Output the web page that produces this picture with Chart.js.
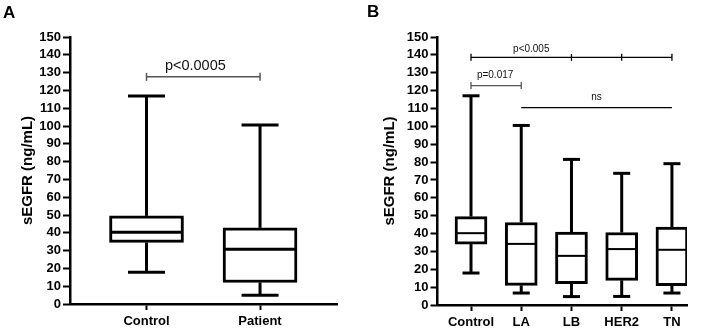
<!DOCTYPE html>
<html><head><meta charset="utf-8">
<script src="https://cdn.jsdelivr.net/npm/chart.js@4"></script>
<style>
html,body{margin:0;padding:0;background:#fff;width:707px;height:328px;overflow:hidden;font-family:"Liberation Sans",Arial,sans-serif;}
#wa{position:absolute;left:0;top:0;width:350px;height:328px;}
#wb{position:absolute;left:350px;top:0;width:357px;height:328px;}
.pl{position:absolute;font-weight:bold;font-size:17px;line-height:17px;color:#000;}
</style></head><body>
<div id="wa"><canvas id="ca" width="350" height="328"></canvas></div>
<div id="wb"><canvas id="cb" width="357" height="328"></canvas></div>
<div class="pl" style="left:3px;top:4px">A</div>
<div class="pl" style="left:367px;top:3px">B</div>
<script>
// ---- Data ----
const yTicks = [0,10,20,30,40,50,60,70,80,90,100,110,120,130,140,150];

const categoriesA = ['Control', 'Patient'];
const minA    = [17.9, 4.9];
const q1A     = [34.6, 12.1];
const medianA = [40.3, 30.8];
const q3A     = [49.5, 42.8];
const maxA    = [116.9, 100.5];

const categoriesB = ['Control', 'LA', 'LB', 'HER2', 'TN'];
const minB    = [17.9, 6.7, 4.7, 4.8, 6.7];
const q1B     = [34.1, 11.0, 11.9, 13.8, 10.8];
const medianB = [40.2, 34.2, 27.5, 31.3, 30.9];
const q3B     = [49.5, 46.2, 40.8, 40.6, 43.6];
const maxB    = [117.1, 100.5, 81.5, 73.7, 79.1];

// significance annotations (category indices, bracket level in data units)
const bracketsA = [
  {label:'p<0.0005', from:0, to:1, level:127.6, ends:[0,1], labelAt:0.43}
];
const bracketsB = [
  {label:'p<0.005', from:0, to:4, level:138.6, ends:[0,2,3,4], labelAt:1.2},
  {label:'p=0.017', from:0, to:1, level:122.8, ends:[0,1], labelAt:0.48},
  {label:'ns',      from:1, to:4, level:110.5, ends:[],      labelAt:2.5}
];

const FONT = '"Liberation Sans", Arial, Helvetica, sans-serif';
Chart.defaults.font.family = FONT;
Chart.defaults.color = '#000';

function boxPlugin(stats, style) {
  return {
    id: 'boxWhiskers',
    afterDatasetsDraw(chart) {
      const {ctx} = chart; const x = chart.scales.x, y = chart.scales.y;
      ctx.save();
      ctx.strokeStyle = '#000'; ctx.lineCap = 'butt';
      const line = (a,b,c,d) => { ctx.beginPath(); ctx.moveTo(a,b); ctx.lineTo(c,d); ctx.stroke(); };
      stats.median.forEach((m, i) => {
        const px = x.getPixelForValue(i + 1);
        ctx.lineWidth = style.lw;
        line(px, y.getPixelForValue(stats.q3[i]), px, y.getPixelForValue(stats.max[i]));
        line(px, y.getPixelForValue(stats.q1[i]), px, y.getPixelForValue(stats.min[i]));
        const yMax = y.getPixelForValue(stats.max[i]), yMin = y.getPixelForValue(stats.min[i]);
        line(px - style.capW/2, yMax, px + style.capW/2, yMax);
        line(px - style.capW/2, yMin, px + style.capW/2, yMin);
        ctx.lineWidth = style.medLw;
        const ym = y.getPixelForValue(m);
        line(px - style.boxW/2 + 1, ym, px + style.boxW/2 - 1, ym);
      });
      // significance brackets
      stats.brackets.forEach(b => {
        const yy = y.getPixelForValue(b.level);
        const x1 = x.getPixelForValue(b.from + 1), x2 = x.getPixelForValue(b.to + 1);
        ctx.strokeStyle = style.bracketColor(b); ctx.lineWidth = style.bracketLw;
        line(x1, yy, x2, yy);
        b.ends.forEach(e => { const xe = x.getPixelForValue(e + 1); line(xe, yy - style.endTick, xe, yy + style.endTick); });
        ctx.fillStyle = '#111';
        ctx.font = style.labelSize + 'px ' + FONT;
        ctx.textAlign = 'center'; ctx.textBaseline = 'alphabetic';
        ctx.fillText(b.label, x.getPixelForValue(b.labelAt + 1), yy - style.labelGap(b));
      });
      ctx.restore();
    }
  };
}

function makeChart(canvas, cats, mn, q1, md, q3, mx, brackets, o) {
  const xs = cats.map((_, i) => i + 1);
  return new Chart(canvas, {
    type: 'bar',
    data: {
      datasets: [{
        data: xs.map((v, i) => ({x: v, y: [q1[i], q3[i]]})),
        backgroundColor: '#fff', borderColor: '#000', borderWidth: o.bw,
        borderSkipped: false, barThickness: o.boxW
      }]
    },
    options: {
      responsive: false, animation: false, devicePixelRatio: 1,
      layout: {padding: {left: 0, right: o.padR, top: o.padT, bottom: 0}},
      plugins: {legend: {display: false}, tooltip: {enabled: false}},
      scales: {
        x: {
          type: 'linear', min: o.xmin, max: o.xmax, offset: false,
          afterBuildTicks: s => { s.ticks = xs.map(v => ({value: v})); },
          afterFit: s => { s.height = o.xh; },
          grid: {offset: false, drawOnChartArea: false, drawTicks: true, tickLength: 6, tickWidth: 2, color: '#000'},
          border: {color: '#000', width: 2.5},
          ticks: {callback: v => cats[v - 1], font: {size: 13, weight: 'bold'}, color: '#000', padding: 4, maxRotation: 0, autoSkip: false}
        },
        y: {
          min: 0, max: 150,
          afterBuildTicks: s => { s.ticks = yTicks.map(v => ({value: v})); },
          afterFit: s => { s.width = o.yw; },
          grid: {offset: false, drawOnChartArea: false, drawTicks: true, tickLength: 7, tickWidth: 2, color: '#000'},
          border: {color: '#000', width: 2.5},
          ticks: {font: {size: 13, weight: 'bold'}, color: '#000', padding: 2, autoSkip: false},
          title: {display: true, text: 'sEGFR (ng/mL)', font: {size: 15, weight: 'bold'}, color: '#000', padding: {top: o.titlePad, bottom: 0}}
        }
      }
    },
    plugins: [boxPlugin({min: mn, q1: q1, median: md, q3: q3, max: mx, brackets: brackets}, o.style)]
  });
}

makeChart(document.getElementById('ca'), categoriesA, minA, q1A, medianA, q3A, maxA, bracketsA, {
  bw: 3, boxW: 74, padR: 13, padT: 37, xh: 24, yw: 70, titlePad: 19, xmin: 0.326, xmax: 2.678,
  style: {lw: 3, capW: 37, boxW: 74, medLw: 3, bracketLw: 1.5, endTick: 4, labelSize: 14.5,
          bracketColor: () => '#555', labelGap: () => 7}
});

makeChart(document.getElementById('cb'), categoriesB, minB, q1B, medianB, q3B, maxB, bracketsB, {
  bw: 3, boxW: 32, padR: 20, padT: 37, xh: 23, yw: 87.5, titlePad: 31, xmin: 0.333, xmax: 5.3,
  style: {lw: 3, capW: 17, boxW: 32, medLw: 2, bracketLw: 1.3, endTick: 3.5, labelSize: 10,
          bracketColor: b => b.label === 'p=0.017' ? '#555' : '#000',
          labelGap: b => b.label === 'p<0.005' ? 5 : 7.5}
});
</script>
</body></html>
